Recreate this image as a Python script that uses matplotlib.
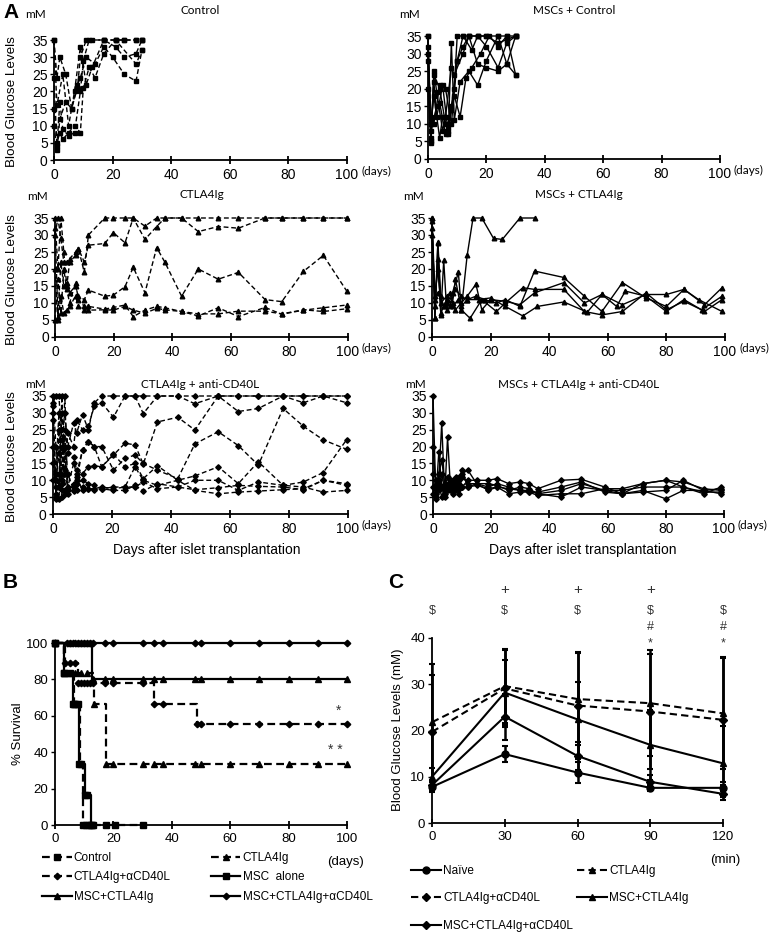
import numpy as np
import matplotlib.pyplot as plt
import matplotlib.transforms as mtransforms
from matplotlib.lines import Line2D

plt.rcParams['font.family'] = ['Liberation Sans', 'DejaVu Sans']

# ---------------- data : panel A (blood glucose, mM) ----------------
ctrl_days = [[0, 1, 2, 4, 6, 8, 9, 11, 13, 17, 21, 24, 28, 30],
             [0, 1, 2, 3, 5, 7, 9, 10, 12, 17, 21, 24, 28, 30],
             [0, 1, 2, 4, 6, 8, 9, 11, 14, 17, 20, 24, 28, 30],
             [0, 1, 2, 3, 5, 7, 9, 10, 12, 14, 17, 21, 28, 30],
             [0, 1, 3, 5, 7, 9, 11, 13, 17, 21, 24, 28, 30]]
ctrl_bg = [[35, 24, 30, 25, 15, 21, 30, 35, 35, 35, 35, 35, 35, 35],
           [24, 4, 17, 9, 7, 8, 20, 29, 35, 35, 33, 30, 31, 35],
           [10, 3, 12, 17, 15, 22, 24, 30, 28, 33, 30, 25, 23, 32],
           [15, 5, 8, 6, 8, 10, 8, 21, 27, 24, 31, 35, 28, 32],
           [35, 16, 25, 10, 20, 33, 22, 27, 35, 35, 35, 35, 35]]

msc_ctrl_days = [[0, 1, 2, 4, 6, 7, 9, 10, 12, 14, 17, 20, 24, 27, 30],
                 [0, 1, 2, 3, 5, 7, 8, 10, 12, 15, 17, 20, 24, 27, 30],
                 [0, 1, 2, 4, 5, 7, 8, 9, 11, 14, 17, 20, 24, 27, 30],
                 [0, 1, 2, 3, 5, 6, 8, 9, 12, 14, 17, 20, 24, 27, 30],
                 [0, 1, 3, 4, 6, 8, 9, 11, 13, 15, 18, 21, 24, 27, 30],
                 [0, 1, 2, 4, 6, 8, 10, 12, 14, 17, 20, 24, 27, 30]]
msc_ctrl_bg = [[35, 5, 24, 20, 10, 8, 20, 35, 35, 35, 35, 35, 35, 35, 35],
               [32, 6, 22, 12, 21, 7, 15, 28, 35, 31, 35, 32, 26, 33, 35],
               [28, 10, 18, 6, 12, 9, 33, 11, 22, 25, 21, 28, 35, 27, 24],
               [20, 4.5, 25, 19, 8, 12, 26, 24, 30, 35, 27, 26, 25, 27, 35],
               [35, 8, 15, 16, 7, 14, 18, 12, 23, 26, 30, 35, 32, 35, 24],
               [30, 12, 10, 21, 20, 10, 28, 32, 35, 35, 35, 33, 34, 35]]

ctla_days = [0, 1, 2, 3, 4, 5, 7, 8, 10, 11.4, 17, 19.9, 23.9, 26.7, 30.7, 34.7,
             37.5, 43.2, 48.9, 55.7, 62.6, 71.7, 77.4, 84.8, 91.6, 99.5]
ctla_bg = [[30, 35, 29, 22, 22, 23, 25, 26, 19, 30, 35, 35, 35, 35, 32.6, 35, 35, 35, 31, 32.5, 32, 35, 35, 35, 35, 35],
           [35, 20, 35, 25, 15, 22, 24, 26, 22, 27, 27.5, 30.7, 27.7, 35, 28.7, 32.5, 35, 35, 35, 35, 35, 35, 35, 35, 35, 35],
           [32, 6, 22, 15, 16, 13, 15, 12, 11, 13.8, 12, 12.3, 14.8, 20.5, 13, 26.3, 22, 12, 20, 17, 19, 11, 10.4, 19.3, 24, 13.6],
           [5, 17, 7, 20, 14, 10, 16, 11, 9, 9, 8.2, 8.7, 9.4, 6, 7.9, 9, 8.6, 7.5, 6.2, 8.6, 6, 8.7, 6.7, 7.9, 8.6, 9.4],
           [20, 5, 12, 7, 8, 9, 12, 9, 8, 7.9, 8, 7.9, 9, 7.9, 7, 8.4, 8, 7.5, 6.8, 6.8, 7.6, 7.6, 6.8, 8, 7.5, 8.3]]

msc_ctla_days = [[0, 1, 2, 3, 5, 7, 9, 10, 12, 15, 18, 22, 25, 30, 35, 45, 52, 58, 65, 73, 80, 86, 93, 99],
                 [0, 1, 2, 3, 4, 6, 8, 10, 12, 15, 17, 20, 25, 30, 35, 45, 52, 58, 63, 66, 73, 80, 86, 93, 99],
                 [0, 1, 2, 3, 5, 7, 8, 10, 13, 17, 22, 25, 31, 35, 45, 52, 58, 65, 73, 80, 86, 92, 99],
                 [0, 1, 2, 4, 5, 6, 8, 10, 12, 16, 20, 25, 31, 36, 45, 53, 58, 65, 73, 80, 86, 91, 99],
                 [0, 1, 2, 3, 4, 5, 7, 9, 10, 12, 14, 17, 21, 24, 30, 35]]
msc_ctla_bg = [[35, 12, 20, 10, 12, 9, 11, 9, 11, 12, 11, 10, 11, 9, 19.4, 17.5, 12, 7.5, 16, 11.5, 9, 14, 9.5, 14.5],
               [32, 5.5, 28, 12, 9, 13, 8, 10, 12, 15.5, 8, 11, 10.5, 9.5, 13, 16, 10, 12.5, 9, 13.5, 12, 7.5, 11, 7.5, 11],
               [34, 9, 23, 7, 11, 10, 17, 8, 5.5, 11, 7.5, 10, 14.5, 14, 14, 7.5, 6.5, 7.5, 13, 8, 10.5, 8, 12],
               [30, 11, 13, 9, 10, 9, 14, 12, 11, 11, 11.5, 9, 6.2, 9, 10.3, 7.3, 12.5, 9.5, 12.5, 12.5, 14, 11, 7.5],
               [35, 5.5, 27.5, 6.5, 22.5, 8, 13, 19, 8, 24, 35, 35, 29, 28.7, 35, 35]]

cd40_days = [0, 1, 2, 3, 4, 5, 7, 8, 10, 12, 14, 16.5, 20.5, 24.4, 27.8, 30.6,
             35.4, 42.3, 48.1, 56, 62.8, 69.6, 78, 84.9, 91.6, 99.5]
cd40_bg = [[33, 35, 35, 22, 30, 20, 27, 24, 29.5, 25, 33, 35, 35, 35, 35, 35, 35, 35, 35, 35, 35, 35, 35, 35, 35, 35],
           [35, 20, 8, 35, 12, 24, 20, 28, 25, 26, 32, 33, 28.7, 35, 35, 29.8, 35, 35, 32.7, 35, 35, 35, 35, 35, 35, 35],
           [30, 5, 25, 10, 35, 8, 15, 12, 19, 21.5, 20, 14, 17.5, 21, 20.5, 14.8, 27.3, 28.7, 24.9, 35, 30.4, 31.3, 35, 33, 35, 33],
           [32, 10, 18, 7, 20, 6, 9, 10, 19, 21.5, 20, 20, 13, 16.5, 17.5, 15, 13, 10.5, 20.8, 24.4, 20.3, 14.5, 31.3, 26, 22, 19.2],
           [28, 6, 12, 5, 13, 18, 17, 13, 12, 14, 14.3, 14, 17.7, 14, 15, 10.5, 14.3, 10, 11.3, 14, 9, 15.5, 8.5, 9.5, 12.3, 22],
           [20, 4.5, 8, 30, 7, 12, 7, 7, 8, 7.5, 7.5, 8, 7.5, 8, 14, 10, 8.5, 10, 7, 6, 6.5, 6.8, 7.2, 7.5, 10, 8.5],
           [15, 8, 4.5, 20, 6, 7, 8, 9, 10, 9, 8.5, 7.5, 7, 7, 8.5, 6.8, 9, 8, 10, 10, 7, 9.5, 8.5, 8, 6.5, 7],
           [10, 12, 30, 9, 25, 7, 6.8, 11, 7, 7.5, 7, 7.5, 8, 8, 8, 9.5, 7.5, 8, 7.2, 7.8, 8.5, 8.2, 8, 7.2, 10, 9]]

msc_cd40_days = [0, 1, 2, 3, 4, 5, 6, 7, 8, 9, 10, 12, 15, 19, 22, 26, 30, 33,
                 36, 44, 51, 59, 65, 72, 80, 86, 93, 99]
msc_cd40_bg = [[35, 5, 18.5, 8, 5, 22.7, 8, 7, 10, 6, 12, 13, 9, 8, 9, 8, 7, 7, 6, 5, 8, 7, 6, 9, 10, 8, 6, 8],
               [20, 8, 10, 27, 6, 9, 10, 8, 11, 9, 8, 10, 10, 10, 10.5, 9, 9.5, 9, 7.5, 10, 10.3, 8, 6, 7, 4.5, 7, 7, 7.5],
               [12, 4.5, 12, 16, 9, 7, 8, 9, 7, 10, 11, 9, 9, 9, 8.5, 7, 8, 7.5, 6, 7, 9, 7, 7, 8, 8, 8, 6.5, 6.5],
               [8, 6, 9, 5, 8, 11, 7, 10, 9, 7.5, 8, 8, 8.5, 7.5, 8, 6, 6.5, 6.5, 6.5, 8, 9.5, 6.5, 6, 6.5, 7, 10, 7, 6],
               [6, 10, 7, 12, 7, 8, 9, 6, 8, 11, 13, 8, 9, 7, 8, 7.5, 7, 6.5, 5.5, 6, 6, 7.5, 7.5, 9, 10, 9.5, 7.5, 7]]

# ---------------- data : panel B (survival, %) ----------------
surv_names = ['Control', 'CTLA4Ig', 'CTLA4Ig+αCD40L', 'MSC  alone',
              'MSC+CTLA4Ig', 'MSC+CTLA4Ig+αCD40L']
surv_times = [[0, 3, 6.5, 8.5, 9.5],
              [0, 3, 13.5, 17.3],
              [0, 3.4, 8, 34, 48.5],
              [0, 3, 6, 8.3, 10.3, 12.3],
              [0, 12.5],
              [0]]
surv_pct = [[100, 83.3, 66.7, 33.3, 0],
            [100, 83.3, 66.7, 33.3],
            [100, 88.9, 77.8, 66.7, 55.6],
            [100, 83.3, 66.7, 33.3, 16.7, 0],
            [100, 80],
            [100]]
surv_marks = [[0, 3, 6.5, 8, 9.5, 10.5, 11.5, 12.5, 17.5, 20.5, 30],
              [0, 3, 5, 7, 9, 11, 13.5, 17.3, 20, 30, 34, 37, 48, 50, 60, 70, 80, 90, 100],
              [0, 3.4, 5, 7, 8, 9, 10, 11, 12, 13, 17, 20, 30, 34, 37, 48.5, 50, 60, 70, 80, 90, 100],
              [0, 3, 5, 6, 7, 8.3, 9, 10.3, 11, 12.3, 13],
              [0, 5, 8, 10, 12, 13, 17, 20, 30, 34, 37, 48, 50, 60, 70, 80, 90, 100],
              [0, 4, 5, 6, 7, 8, 9, 10, 11, 12, 13, 17, 20, 30, 34, 37, 48, 50, 60, 70, 80, 90, 100]]
surv_dashed = [True, True, True, False, False, False]
surv_markers = ['s', '^', 'D', 's', '^', 'D']

# ---------------- data : panel C (IPGTT) ----------------
ipgtt_min = [0, 30, 60, 90, 120]
ipgtt_names = ['Naïve', 'CTLA4Ig', 'CTLA4Ig+αCD40L', 'MSC+CTLA4Ig', 'MSC+CTLA4Ig+αCD40L']
ipgtt_mean = [[7.8, 14.9, 10.9, 7.6, 7.6],
              [21.8, 29.6, 26.8, 25.9, 23.7],
              [19.7, 29.1, 25.4, 24.1, 22.3],
              [10.0, 28.2, 22.4, 16.9, 12.9],
              [8.2, 23.0, 14.5, 8.9, 6.3]]
ipgtt_sd = [[1.0, 1.7, 2.2, 0.6, 0.6],
            [12.5, 8.0, 10.0, 11.5, 12.0],
            [12.3, 8.4, 11.5, 12.5, 13.5],
            [2.0, 7.0, 8.0, 7.5, 8.0],
            [1.0, 5.0, 3.0, 1.5, 0.7]]
ipgtt_dashed = [False, True, True, False, False]
ipgtt_markers = ['o', '^', 'D', '^', 'D']

W, H = 772, 935
fig = plt.figure(figsize=(W / 100, H / 100), dpi=100)
DASH = (0, (3.5, 2))
CAL = ['Lato', 'DejaVu Sans']


def px_axes(x0, y0, x1, y1):
    return fig.add_axes([x0 / W, 1 - y1 / H, (x1 - x0) / W, (y1 - y0) / H])


def ftext(x, y, s, **kw):
    fig.text(x / W, 1 - y / H, s, **kw)


def clean(ax):
    for s in ['top', 'right']:
        ax.spines[s].set_visible(False)
    for s in ['left', 'bottom']:
        ax.spines[s].set_linewidth(1.3)


def glucose_panel(box, title, ty, my, days, vals, marker, dashed, left):
    ax = px_axes(*box)
    ms = 2.8 if marker == 'D' else 3.3
    for d, v in zip(days, vals):
        ax.plot(d, v, color='black', lw=1.0, ls=DASH if dashed else '-',
                marker=marker, ms=ms, clip_on=False)
    ax.set_xlim(0, 100)
    ax.set_ylim(0, 35)
    ax.set_xticks(range(0, 101, 20))
    ax.set_yticks(range(0, 36, 5))
    clean(ax)
    ax.tick_params(axis='x', direction='inout', length=6, width=1.3, pad=2.5, labelsize=10)
    ax.tick_params(axis='y', direction='out', length=3, width=1, pad=1.5, labelsize=10)
    x0, y0, x1, y1 = box
    ftext((x0 + x1) / 2, ty, title, family=CAL, fontsize=8.5, ha='center', va='center')
    ftext(x0 - 18, my, 'mM', family=CAL, fontsize=8.5, ha='center', va='center')
    ftext(x1 + 14, y1 + 11, '(days)', family=CAL, fontsize=8.5, ha='left', va='center')
    if left:
        ftext(12, (y0 + y1) / 2 + 2, 'Blood Glucose Levels', fontsize=9.7,
              rotation=90, ha='center', va='center')
    return ax


glucose_panel((54, 40, 347, 160), 'Control', 11, 15, ctrl_days, ctrl_bg, 's', True, True)
glucose_panel((428, 36, 720, 159), 'MSCs + Control', 11, 15, msc_ctrl_days, msc_ctrl_bg, 's', False, False)
glucose_panel((55, 218, 348, 337), 'CTLA4Ig', 195, 196, [ctla_days] * len(ctla_bg), ctla_bg, '^', True, True)
glucose_panel((432, 218, 725, 337), 'MSCs + CTLA4Ig', 195, 196, msc_ctla_days, msc_ctla_bg, '^', False, False)
glucose_panel((53, 396, 348, 514), 'CTLA4Ig + anti-CD40L', 385, 384,
              [cd40_days] * len(cd40_bg), cd40_bg, 'D', True, True)
glucose_panel((433, 396, 724, 514), 'MSCs + CTLA4Ig + anti-CD40L', 385, 384,
              [msc_cd40_days] * len(msc_cd40_bg), msc_cd40_bg, 'D', False, False)

ftext(207, 550, 'Days after islet transplantation', fontsize=10, ha='center', va='center')
ftext(583, 550, 'Days after islet transplantation', fontsize=10, ha='center', va='center')

ftext(3, 13, 'A', fontsize=15, fontweight='bold', ha='left', va='center')
ftext(3, 582, 'B', fontsize=15, fontweight='bold', ha='left', va='center')
ftext(388, 582, 'C', fontsize=15, fontweight='bold', ha='left', va='center')

# ---------------- panel B ----------------
axb = px_axes(55, 643, 347, 825)
handles = []
for i in range(len(surv_names)):
    t = list(surv_times[i]) + [max(surv_marks[i])]
    p = list(surv_pct[i]) + [surv_pct[i][-1]]
    ls = DASH if surv_dashed[i] else '-'
    ms = 3.3 if surv_markers[i] == 'D' else 4
    axb.plot(t, p, color='black', lw=1.6, ls=ls, drawstyle='steps-post', clip_on=False)
    idx = np.searchsorted(surv_times[i], surv_marks[i], side='right') - 1
    axb.plot(surv_marks[i], np.array(surv_pct[i])[idx], ls='none', color='black',
             marker=surv_markers[i], ms=ms, clip_on=False)
    handles.append(Line2D([], [], color='black', lw=1.6, ls=ls,
                          marker=surv_markers[i], ms=ms))
axb.set_xlim(0, 100)
axb.set_ylim(0, 100)
axb.set_xticks(range(0, 101, 20))
axb.set_yticks(range(0, 101, 20))
clean(axb)
axb.tick_params(axis='x', direction='inout', length=6, width=1.3, pad=3, labelsize=9.5)
axb.tick_params(axis='y', direction='out', length=3, width=1, pad=2, labelsize=9.5)
ftext(18, 734, '% Survival', fontsize=9.5, rotation=90, ha='center', va='center')
axb.text(97, 63, '*', fontsize=10, ha='center', va='center', color='#333333')
axb.text(96, 41, '* *', fontsize=10, ha='center', va='center', color='#333333')
ftext(345, 862, '(days)', fontsize=9.5, ha='center', va='center')
order = [0, 2, 4, 1, 3, 5]
axb.legend([handles[k] for k in order], [surv_names[k] for k in order], ncol=2,
           loc='upper left', bbox_to_anchor=(42 / W, 1 - 852 / H),
           bbox_transform=fig.transFigure, frameon=False, fontsize=8.5,
           handlelength=2.5, handletextpad=0.2, labelspacing=0.62,
           columnspacing=3.4, borderpad=0, borderaxespad=0)

# ---------------- panel C ----------------
axc = px_axes(432, 638, 723, 823)
hc = []
for i in range(len(ipgtt_names)):
    ls = DASH if ipgtt_dashed[i] else '-'
    ms = 4.2 if ipgtt_markers[i] == 'D' else 5
    axc.errorbar(ipgtt_min, ipgtt_mean[i], yerr=ipgtt_sd[i], color='black', lw=1.5,
                 ls=ls, marker=ipgtt_markers[i], ms=ms, elinewidth=1.8, capsize=2.5,
                 capthick=1.5, clip_on=False)
    hc.append(Line2D([], [], color='black', lw=1.5, ls=ls, marker=ipgtt_markers[i], ms=ms))
axc.set_xlim(0, 120)
axc.set_ylim(0, 40)
axc.set_xticks(ipgtt_min)
axc.set_yticks(range(0, 41, 10))
clean(axc)
axc.tick_params(axis='x', direction='inout', length=6, width=1.3, pad=3, labelsize=9.5)
axc.tick_params(axis='y', direction='out', length=3, width=1, pad=2, labelsize=9.5)
ftext(398, 730, 'Blood Glucose Levels (mM)', fontsize=9.5, rotation=90, ha='center', va='center')
ftext(725, 860, '(min)', fontsize=9.5, ha='center', va='center')

bt = mtransforms.blended_transform_factory(axc.transData, fig.transFigure)
sig_rows = [('+', [30, 60, 90], 590), ('$', [0, 30, 60, 90, 120], 611),
            ('#', [90, 120], 627), ('*', [90, 120], 643)]
for sym, xs, py in sig_rows:
    for x in xs:
        axc.text(x, 1 - py / H, sym, transform=bt, fontsize=9 if sym != '+' else 11,
                 ha='center', va='center', color='#333333')

orderc = [0, 2, 4, 1, 3]
axc.legend([hc[k] for k in orderc], [ipgtt_names[k] for k in orderc], ncol=2,
           loc='upper left', bbox_to_anchor=(411 / W, 1 - 865 / H),
           bbox_transform=fig.transFigure, frameon=False, fontsize=8.5,
           handlelength=2.5, handletextpad=0.2, labelspacing=1.3,
           columnspacing=0.4, borderpad=0, borderaxespad=0)

fig.savefig('out.png', dpi=100)
